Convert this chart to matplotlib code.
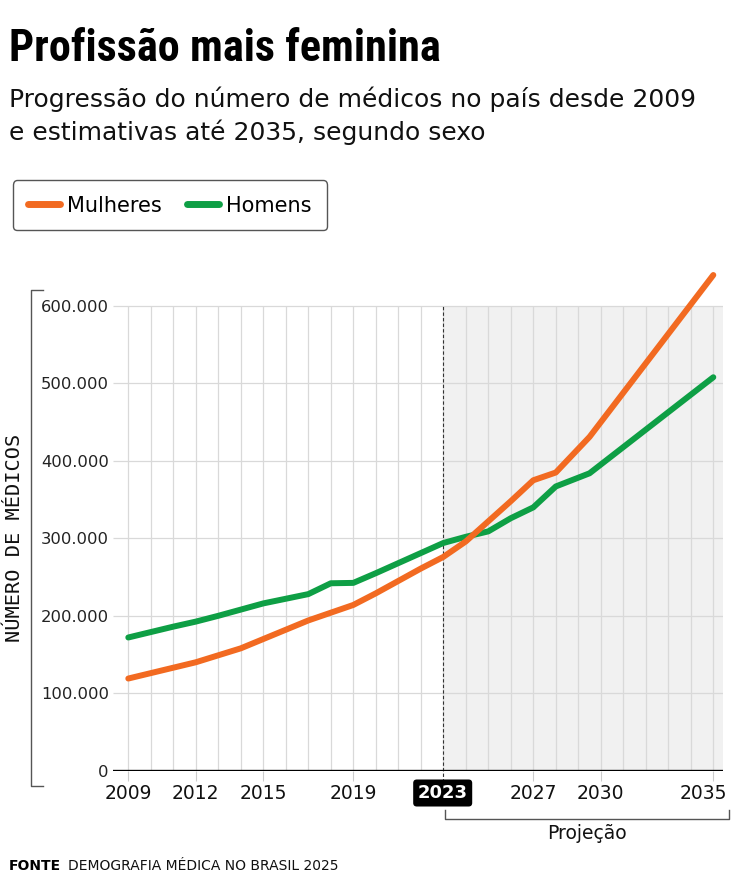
import matplotlib
matplotlib.use("Agg")
import matplotlib.pyplot as plt
import matplotlib.transforms as mtransforms
from matplotlib import font_manager
from matplotlib.lines import Line2D

# dados
anos = [2009, 2010, 2011, 2012, 2013, 2014, 2015, 2016, 2017, 2018, 2019,
        2020, 2021, 2022, 2023, 2024, 2025, 2026, 2027, 2028, 2029.5, 2035]
mulheres = [119000, 126000, 133000, 140000, 149000, 158000, 170000, 182000,
            194000, 204000, 214000, 229000, 245000, 261000, 276000, 296000,
            322000, 348000, 375000, 385000, 431000, 640000]
homens = [172000, 179000, 186000, 192500, 200000, 208000, 216000, 222000,
          228000, 242000, 242500, 255000, 268000, 281000, 294000, 302000,
          309000, 326000, 340000, 367000, 384000, 508000]
anos_rotulo = [2009, 2012, 2015, 2019, 2027, 2030, 2035]
y_ticks = [0, 100000, 200000, 300000, 400000, 500000, 600000]
ano_atual = 2023

COR_MULHERES = "#F26A21"
COR_HOMENS = "#0E9F45"
GRID = "#d9d9d9"

plt.rcParams["font.family"] = "DejaVu Sans"

W, H = 736, 880
fig = plt.figure(figsize=(W / 100, H / 100), dpi=100)


def fx(px):
    return px / W


def fy(py):
    return 1 - py / H


# geometry of the plot in pixels
y0_px, y600_px, top_px = 770.7, 306.0, 268.0
x2009_px, x2035_px, xl_px, xr_px = 128.3, 713.3, 113.0, 723.0
val_per_px = 600000 / (y0_px - y600_px)
yr_per_px = 26 / (x2035_px - x2009_px)

ax = fig.add_axes([fx(xl_px), fy(y0_px), (xr_px - xl_px) / W, (y0_px - top_px) / H])
ax.set_ylim(0, (y0_px - top_px) * val_per_px)
xmin = 2009 - (x2009_px - xl_px) * yr_per_px
xmax = 2035 + (xr_px - x2035_px) * yr_per_px
ax.set_xlim(xmin, xmax)
ax.patch.set_visible(False)
for s in ax.spines.values():
    s.set_visible(False)

# projection shading + grid
ax.fill_between([ano_atual, xmax], 0, y_ticks[-1], color="#f1f1f1", lw=0, zorder=0)
ax.hlines(y_ticks[1:], xmin, xmax, color=GRID, lw=0.9, zorder=1)
ax.vlines(range(2009, 2036), 0, y_ticks[-1], color=GRID, lw=0.9, zorder=1)
ax.vlines(ano_atual, -15000, y_ticks[-1], colors="#333333",
          linestyles=(0, (3, 2)), lw=0.8, zorder=2, clip_on=False)
ax.axhline(0, color="black", lw=2.4, zorder=3)

ax.plot(anos, homens, color=COR_HOMENS, lw=4.3, solid_capstyle="round",
        solid_joinstyle="round", zorder=4, clip_on=False)
ax.plot(anos, mulheres, color=COR_MULHERES, lw=4.3, solid_capstyle="round",
        solid_joinstyle="round", zorder=5, clip_on=False)

ax.set_yticks(y_ticks)
ax.set_yticklabels([f"{v:,}".replace(",", ".") for v in y_ticks])
ax.tick_params(axis="y", length=0, pad=3, labelsize=11.8, labelcolor="#222222")
ax.set_xticks(anos_rotulo)
ax.set_xticklabels([str(a) for a in anos_rotulo])
ax.tick_params(axis="x", length=7.5, width=0.8, color="#cccccc", pad=2,
               labelsize=13.5, labelcolor="#111111")
# last label pulled left so it stays inside the figure
ultimo = ax.get_xticklabels()[-1]
ultimo.set_transform(ultimo.get_transform() +
                     mtransforms.ScaledTranslation(-0.10, 0, fig.dpi_scale_trans))

fig.text(fx(442.7), fy(793), str(ano_atual), ha="center", va="center",
         color="white", fontsize=13, fontweight="bold", zorder=10,
         bbox=dict(boxstyle="round,pad=0.25,rounding_size=0.2", fc="black", ec="none"))

# projection bracket
fig.add_artist(Line2D([fx(444.7), fx(444.7), fx(729), fx(729)],
                      [fy(810), fy(819), fy(819), fy(810)],
                      color="#555555", lw=1))
fig.text(fx(587), fy(833), "Projeção", ha="center", va="center", fontsize=13.5,
         color="#111111")

# y axis bracket + label
fig.add_artist(Line2D([fx(43), fx(31), fx(31), fx(43)],
                      [fy(290), fy(290), fy(786), fy(786)],
                      color="#555555", lw=1))
fig.text(fx(15), fy(538), "NÚMERO DE MÉDICOS", rotation=90, ha="center",
         va="center", family="DejaVu Sans Mono", fontsize=14.6, color="#111111")

# title
nomes = {f.name for f in font_manager.fontManager.ttflist}
fonte_titulo = "DejaVu Sans"
for cand in ["Roboto Condensed", "Liberation Sans Narrow", "DejaVu Sans Condensed"]:
    if cand in nomes:
        fonte_titulo = cand
        break
titulo = fig.text(fx(9), fy(61), "Profissão mais feminina", family=fonte_titulo,
                  fontweight="heavy", fontsize=30, va="baseline", color="black")
r = fig.canvas.get_renderer()
bw = titulo.get_window_extent(r).width
titulo.set_fontsize(30 * 431 / bw)

fig.text(fx(9), fy(107), "Progressão do número de médicos no país desde 2009",
         fontsize=18, va="baseline", color="#111111")
fig.text(fx(9), fy(140), "e estimativas até 2035, segundo sexo",
         fontsize=18, va="baseline", color="#111111")

# legend
handles = [Line2D([], [], color=COR_MULHERES, lw=5, solid_capstyle="round"),
           Line2D([], [], color=COR_HOMENS, lw=5, solid_capstyle="round")]
leg = fig.legend(handles, ["Mulheres", "Homens"], loc="upper left",
                 bbox_to_anchor=(fx(12.5), fy(180.5)), ncol=2, fontsize=15,
                 frameon=True, fancybox=True, edgecolor="#555555", framealpha=1,
                 handlelength=1.55, handletextpad=0.35, columnspacing=1.2,
                 borderpad=0.72, borderaxespad=0)
leg.get_frame().set_linewidth(1)

# footer
fig.text(fx(9), fy(866), "FONTE", fontsize=10, fontweight="bold", va="center")
fig.text(fx(68), fy(866), "DEMOGRAFIA MÉDICA NO BRASIL 2025", fontsize=10,
         va="center", color="#111111")

fig.savefig("out.png", dpi=100)
